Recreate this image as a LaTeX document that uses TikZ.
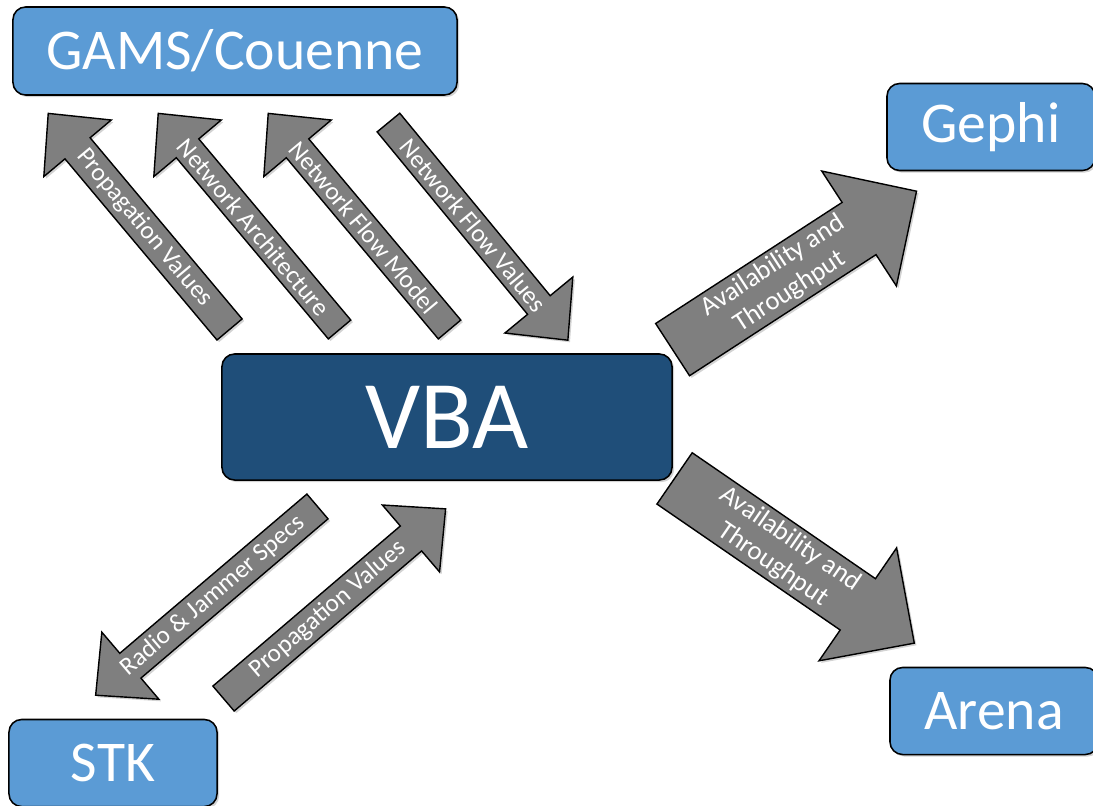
\documentclass[tikz,border=0pt]{standalone}
\usepackage{fontspec}
\setmainfont{Carlito}
\usetikzlibrary{positioning,shapes.arrows,shadows}
\definecolor{toolblue}{HTML}{5B9BD5}
\definecolor{vbablue}{HTML}{1F4E79}
\definecolor{flowgray}{HTML}{7F7F7F}

\tikzset{
  tool/.style={draw=black,line width=1.1pt,rounded corners=9pt,fill=toolblue,text=white,
    font=\fontsize{41}{49}\selectfont,minimum width=5.2cm,minimum height=2.175cm,
    drop shadow={shadow xshift=1.5pt,shadow yshift=-1.5pt,opacity=.35}},
  flow/.style={single arrow,draw=black,line width=1pt,fill=flowgray,text=white,
    font=\fontsize{18}{21}\selectfont,inner sep=1pt,anchor=tail,
    single arrow head extend=.55cm,single arrow tip angle=88,
    minimum width=2.2cm,minimum height=7.05cm,
    drop shadow={shadow xshift=1.5pt,shadow yshift=-1.5pt,opacity=.35}},
  wideflow/.style={flow,align=center,font=\fontsize{19}{22}\selectfont,
    single arrow head extend=.875cm,single arrow tip angle=90,
    minimum width=3.425cm,minimum height=7.27cm}
}

\begin{document}
\begin{tikzpicture}[x=0.025cm,y=-0.025cm]
\useasboundingbox (0,0) rectangle (1093,805);
\clip (0,0) rectangle (1093,805);
% tools
\node[tool,minimum width=11.1cm,minimum height=2.2cm] (gams) at (235,51) {GAMS/Couenne};
\node[tool] (gephi) at (991,127) {Gephi};
\node[tool] (arena) at (994,711) {Arena};
\node[tool] (stk) at (113,763) {STK};
\node[tool,fill=vbablue,minimum width=11.25cm,minimum height=3.15cm,
  font=\fontsize{69}{80}\selectfont] (vba) at (447,417) {VBA};
% VBA <-> GAMS/Couenne
\node[flow,shape border rotate=180,rotate=-50] (propA) at (230,330) {Propagation Values};
\node[flow,shape border rotate=180,rotate=-50] (arch) at (340,330) {Network Architecture};
\node[flow,shape border rotate=180,rotate=-50] (model) at (450,330) {Network Flow Model};
\node[flow,rotate=-50.5] (flowval) at (388,122) {Network Flow Values};
% VBA -> Gephi, Arena
\node[wideflow,rotate=33] (toGephi) at (672,350) {Availability and\\Throughput};
\node[wideflow,rotate=-34.5] (toArena) at (674,478) {Availability and\\Throughput};
% VBA <-> STK
\node[flow,minimum height=7.28cm,shape border rotate=180,rotate=40.4] (specs) at (318,506) {Radio \& Jammer Specs};
\node[flow,minimum height=7.3cm,rotate=40.5] (propB) at (223,699) {Propagation Values};
\end{tikzpicture}
\end{document}
